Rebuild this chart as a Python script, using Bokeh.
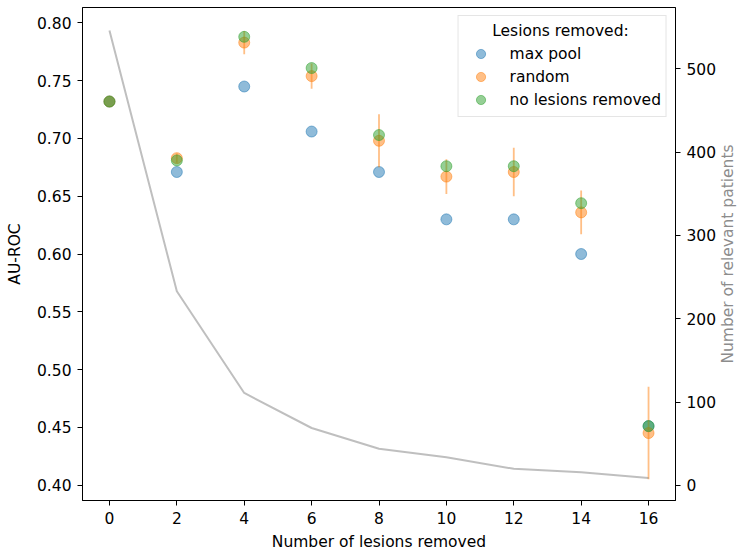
from bokeh.plotting import figure
from bokeh.models import (Range1d, LinearAxis, FixedTicker, NumeralTickFormatter,
                          Legend, LegendItem, ColumnDataSource, Label)
from bokeh.embed import file_html
from bokeh.resources import INLINE
import math

# ---- data ----
lesions_removed = [0, 2, 4, 6, 8, 10, 12, 14, 16]
max_pool_auc = [0.732, 0.671, 0.745, 0.706, 0.671, 0.630, 0.630, 0.600, 0.451]
random_auc = [0.732, 0.683, 0.783, 0.754, 0.698, 0.667, 0.671, 0.636, 0.445]
random_err = [0.0, 0.004, 0.010, 0.011, 0.023, 0.015, 0.021, 0.019, 0.040]
no_removal_auc = [0.732, 0.681, 0.788, 0.761, 0.703, 0.676, 0.676, 0.644, 0.451]
relevant_patients = [546, 233, 111, 69, 44, 34, 20, 16, 9]

x_ticks = [0, 2, 4, 6, 8, 10, 12, 14, 16]
auc_ticks = [0.40, 0.45, 0.50, 0.55, 0.60, 0.65, 0.70, 0.75, 0.80]
patient_ticks = [0, 100, 200, 300, 400, 500]
legend_title = "Lesions removed:"
right_label = "Number of relevant patients"

FONT = "DejaVu Sans"
FS = "15.5px"
BLUE, ORANGE, GREEN = "#1f77b4", "#ff7f0e", "#2ca02c"

src = ColumnDataSource(dict(
    x=lesions_removed,
    maxpool=max_pool_auc,
    rnd=random_auc,
    lo=[a - e for a, e in zip(random_auc, random_err)],
    hi=[a + e for a, e in zip(random_auc, random_err)],
    none=no_removal_auc,
    patients=relevant_patients,
))

X0, X1 = -0.8, 16.8
Y0, Y1 = 0.3866, 0.8134
p = figure(width=738, height=553,
           x_range=Range1d(X0, X1), y_range=Range1d(Y0, Y1),
           output_backend="svg", toolbar_location=None,
           min_border_left=82, min_border_right=63,
           min_border_top=7, min_border_bottom=52)
p.extra_y_ranges = {"patients": Range1d(-18, 573.5)}

p.xgrid.visible = False
p.ygrid.visible = False
p.outline_line_color = "black"
p.outline_line_width = 1
p.outline_line_alpha = 1
p.background_fill_color = "white"
p.border_fill_color = "white"


def style_axis(ax, label, color="black", standoff=6, label_standoff=6):
    ax.axis_label = label
    ax.axis_label_text_font = FONT
    ax.axis_label_text_font_size = FS
    ax.axis_label_text_font_style = "normal"
    ax.axis_label_text_color = color
    ax.axis_label_standoff = standoff
    ax.major_label_text_font = FONT
    ax.major_label_text_font_size = FS
    ax.major_label_text_color = "black"
    ax.major_label_standoff = label_standoff
    ax.axis_line_color = "black"
    ax.major_tick_line_color = "black"
    ax.major_tick_out = 5
    ax.major_tick_in = 0
    ax.minor_tick_line_color = None


style_axis(p.xaxis[0], "Number of lesions removed", standoff=6, label_standoff=6)
p.xaxis[0].ticker = FixedTicker(ticks=x_ticks)
style_axis(p.yaxis[0], "AU-ROC", standoff=10, label_standoff=6)
p.yaxis[0].ticker = FixedTicker(ticks=auc_ticks)
p.yaxis[0].formatter = NumeralTickFormatter(format="0.00")

right_axis = LinearAxis(y_range_name="patients")
style_axis(right_axis, None, label_standoff=6)
right_axis.ticker = FixedTicker(ticks=patient_ticks)
p.add_layout(right_axis, "right")

# right-axis title, reading bottom-to-top as in the reference; it lives in the
# right side panel (so it is not clipped to the frame)
rx, ry = 1.088, 0.50
p.add_layout(Label(x=X0 + rx * (X1 - X0), y=Y0 + ry * (Y1 - Y0),
                   text=right_label, angle=math.pi / 2,
                   text_font=FONT, text_font_size=FS,
                   text_align="center", text_baseline="middle",
                   text_color="#8c8c8c"), "right")

# ---- glyphs ----
r_max = p.scatter("x", "maxpool", source=src, size=11, fill_color=BLUE,
                  line_color=BLUE, fill_alpha=0.5, line_alpha=0.5)
p.segment(x0="x", y0="lo", x1="x", y1="hi", source=src, line_color=ORANGE,
          line_alpha=0.5, line_width=1.8)
r_rnd = p.scatter("x", "rnd", source=src, size=11, fill_color=ORANGE,
                  line_color=ORANGE, fill_alpha=0.5, line_alpha=0.5)
r_none = p.scatter("x", "none", source=src, size=11, fill_color=GREEN,
                   line_color=GREEN, fill_alpha=0.5, line_alpha=0.5)
p.line("x", "patients", source=src, y_range_name="patients",
       line_color="gray", line_alpha=0.5, line_width=2)

legend = Legend(items=[
    LegendItem(label="max pool", renderers=[r_max]),
    LegendItem(label="random", renderers=[r_rnd]),
    LegendItem(label="no lesions removed", renderers=[r_none]),
], location="top_right")
# the title keeps its space in the box; a centred copy is drawn on top
legend.title = legend_title
legend.title_text_font = FONT
legend.title_text_font_size = FS
legend.title_text_font_style = "normal"
legend.title_text_alpha = 0
legend.title_standoff = 3
legend.label_text_font = FONT
legend.label_text_font_size = FS
legend.label_text_color = "black"
legend.glyph_width = 34
legend.glyph_height = 23
legend.label_standoff = 12
legend.spacing = 0
legend.padding = 5
legend.margin = 8
legend.border_line_color = "#cccccc"
legend.border_line_width = 1
legend.background_fill_color = None
p.add_layout(legend)

# centred legend title (matplotlib style), placed in frame-fraction terms
fx, fy = 0.806, 0.952
title_label = Label(x=X0 + fx * (X1 - X0), y=Y0 + fy * (Y1 - Y0),
                    text=legend_title, text_font=FONT, text_font_size=FS,
                    text_align="center", text_baseline="middle",
                    text_color="black")
title_label.level = "overlay"
p.add_layout(title_label)

open("out.html", "w").write(file_html(p, INLINE))
